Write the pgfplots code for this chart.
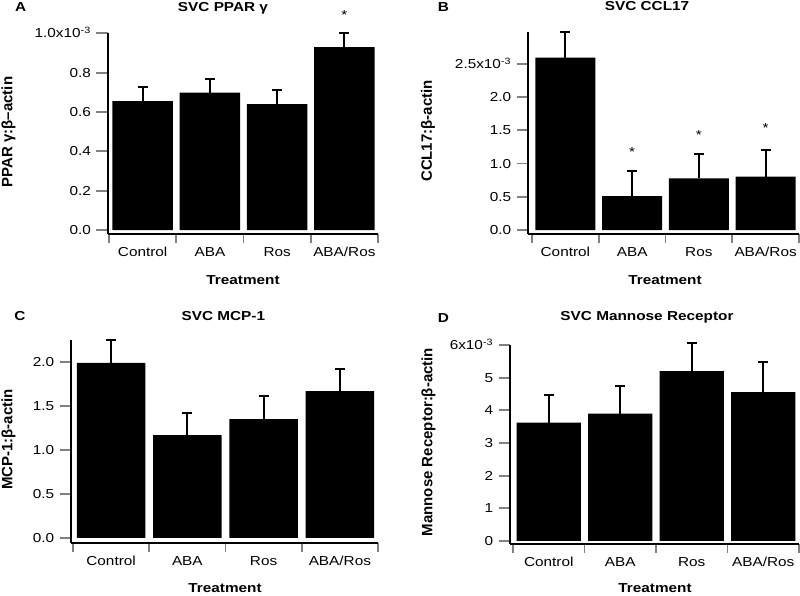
\documentclass[border=0pt]{standalone}
\usepackage{fontspec}
\setmainfont{Liberation Sans}
\usepackage{pgfplots}
\pgfplotsset{compat=1.18}

\newcommand{\tickfont}{\fontsize{13bp}{15bp}\selectfont}
\newcommand{\titlefont}{\fontsize{13bp}{15bp}\selectfont\bfseries}
\newcommand{\ylabfont}{\fontsize{15bp}{18bp}\selectfont\bfseries}

\pgfplotsset{
  panel/.style={
    scale only axis, anchor=south west, clip=false,
    axis lines*=left,
    axis line style={-, line width=2bp},
    tick align=outside,
    ybar, bar width=0.9,
    xtick={0,1,2,3},
    xticklabels={Control,ABA,Ros,ABA/Ros},
    major x tick style={draw=none},
    minor xtick={-0.5,0.5,1.5,2.5,3.5},
    minor x tick style={line width=1.8bp},
    minor tick length=9bp,
    major tick length=11.5bp,
    y tick style={line width=1.8bp},
    ticklabel style={font=\tickfont, xscale=1.18},
    yticklabel style={xshift=-1bp},
    xticklabel style={yshift=1.5bp},
    xmax=3.5,
  },
  bars/.style={
    fill=black, draw=none,
    error bars/.cd, y dir=plus, y explicit,
    error bar style={line width=2bp, black},
    error mark options={rotate=90, line width=2bp, mark size=5bp, black},
  },
}

\begin{document}
\begin{tikzpicture}
\useasboundingbox (0,0) rectangle (800bp,596bp);

% A: SVC PPAR gamma
\begin{axis}[panel, at={(107.7bp,362bp)}, width=270.3bp, height=200.6bp,
  xmin=-0.52, ymin=-0.02, ymax=1.0,
  ytick={0,0.2,0.4,0.6,0.8,1.0},
  yticklabels={0.0,0.2,0.4,0.6,0.8,1.0x10\smash{\textsuperscript{-3}}}]
\addplot[bars] coordinates {
  (0,0.656) +- (0,0.071)
  (1,0.699) +- (0,0.067)
  (2,0.640) +- (0,0.070)
  (3,0.930) +- (0,0.070)
};
\node[font=\tickfont, xscale=1.18] at (axis cs:3,1.095) {*};
\end{axis}

% B: SVC CCL17
\begin{axis}[panel, at={(528bp,362bp)}, width=271bp, height=201.9bp,
  xmin=-0.56, ymin=-0.06, ymax=2.98,
  ytick={0,0.5,1.0,1.5,2.0,2.5},
  yticklabels={0.0,0.5,1.0,1.5,2.0,2.5x10\smash{\textsuperscript{-3}}}]
\addplot[bars] coordinates {
  (0,2.596) +- (0,0.379)
  (1,0.512) +- (0,0.377)
  (2,0.778) +- (0,0.371)
  (3,0.803) +- (0,0.402)
};
\node[font=\tickfont, xscale=1.18] at (axis cs:1,1.17) {*};
\node[font=\tickfont, xscale=1.18] at (axis cs:2,1.436) {*};
\node[font=\tickfont, xscale=1.18] at (axis cs:3,1.53) {*};
\end{axis}

% C: SVC MCP-1
\begin{axis}[panel, at={(71bp,53bp)}, width=307bp, height=202.6bp,
  xmin=-0.526, ymin=-0.057, ymax=2.245,
  ytick={0,0.5,1.0,1.5,2.0},
  yticklabels={0.0,0.5,1.0,1.5,2.0}]
\addplot[bars] coordinates {
  (0,1.99) +- (0,0.255)
  (1,1.17) +- (0,0.25)
  (2,1.35) +- (0,0.26)
  (3,1.67) +- (0,0.25)
};
\end{axis}

% D: SVC Mannose Receptor
\begin{axis}[panel, at={(510bp,52bp)}, width=289bp, height=199bp,
  xmin=-0.542, ymin=-0.092, ymax=6,
  ytick={0,1,2,3,4,5,6},
  yticklabels={0,1,2,3,4,5,6x10\smash{\textsuperscript{-3}}}]
\addplot[bars] coordinates {
  (0,3.62) +- (0,0.86)
  (1,3.90) +- (0,0.84)
  (2,5.20) +- (0,0.85)
  (3,4.56) +- (0,0.92)
};
\end{axis}

% panel letters and titles
\begin{scope}[every node/.style={font=\titlefont, xscale=1.18}]
\node at (20.7bp,589.3bp) {A};
\node at (223bp,588bp) {SVC PPAR γ};
\node at (443.3bp,589.3bp) {B};
\node at (647bp,590bp) {SVC CCL17};
\node at (20bp,280bp) {C};
\node at (223.3bp,280bp) {SVC MCP-1};
\node at (443.3bp,278bp) {D};
\node at (647bp,278.3bp) {SVC Mannose Receptor};
\node at (243bp,316bp) {Treatment};
\node at (665bp,316bp) {Treatment};
\node at (225bp,8.3bp) {Treatment};
\node at (655bp,7.5bp) {Treatment};
\end{scope}

% y labels
\begin{scope}[every node/.style={font=\ylabfont, rotate=90, inner sep=0pt}]
\node at (8.5bp,464bp) {PPAR γ:β–actin};
\node at (428bp,465bp) {CCL17:β-actin};
\node at (8.5bp,156.5bp) {MCP-1:β-actin};
\node at (428.5bp,154bp) {Mannose Receptor:β-actin};
\end{scope}
\end{tikzpicture}
\end{document}
